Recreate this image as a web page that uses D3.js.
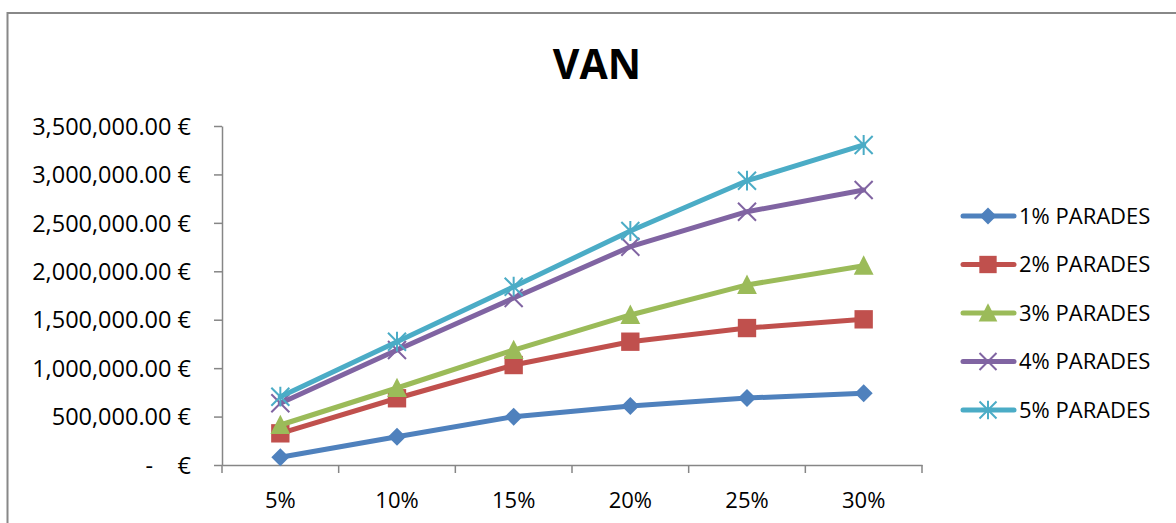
<!DOCTYPE html>
<html>
<head>
<meta charset="utf-8">
<script src="https://cdn.jsdelivr.net/npm/d3@7"></script>
<style>
  html, body { margin: 0; padding: 0; background: #fff; }
  svg { display: block; }
  text { font-family: "Open Sans", "Liberation Sans", sans-serif; fill: #000; white-space: pre; }
</style>
</head>
<body>
<svg id="chart" width="1176" height="523"></svg>
<script>
const title = "VAN";
const categories = ["5%", "10%", "15%", "20%", "25%", "30%"];
const seriesNames = ["1% PARADES", "2% PARADES", "3% PARADES", "4% PARADES", "5% PARADES"];
const s1 = [80000, 292000, 499000, 609000, 692000, 740000];
const s2 = [327000, 689000, 1032000, 1273000, 1414000, 1504000];
const s3 = [413000, 795000, 1187000, 1549000, 1859000, 2058000];
const s4 = [637000, 1187000, 1724000, 2254000, 2615000, 2839000];
const s5 = [705000, 1273000, 1841000, 2416000, 2935000, 3304000];
const yTicks = [0, 500000, 1000000, 1500000, 2000000, 2500000, 3000000, 3500000];
const yTickLabels = ["-    €", "500,000.00 €", "1,000,000.00 €", "1,500,000.00 €", "2,000,000.00 €", "2,500,000.00 €", "3,000,000.00 €", "3,500,000.00 €"];
const colors = ["#4F81BD", "#C0504D", "#9BBB59", "#8064A2", "#4BACC6"];
const markers = ["diamond", "square", "triangle", "x", "asterisk"];

const seriesValues = [s1, s2, s3, s4, s5];
const series = seriesNames.map((n, i) => ({ name: n, values: seriesValues[i], color: colors[i], marker: markers[i] }));

const svg = d3.select("#chart");

// outer chart border
svg.append("rect")
  .attr("x", 7.5).attr("y", 13).attr("width", 1200).attr("height", 600)
  .attr("fill", "none").attr("stroke", "#888").attr("stroke-width", 2);

const x = d3.scaleBand().domain(categories).range([222, 922]).paddingInner(0).paddingOuter(0);
const y = d3.scaleLinear().domain([0, 3500000]).range([465, 126]);

// title
svg.append("text").attr("x", 597).attr("y", 79).attr("text-anchor", "middle")
  .style("font-size", "41px").style("font-weight", "bold").text(title);

// y axis
const yAxis = d3.axisLeft(y).tickValues(yTicks).tickSize(8).tickSizeOuter(0)
  .tickFormat((d, i) => yTickLabels[i]);
const gy = svg.append("g").attr("transform", "translate(222,0)").call(yAxis);
gy.select(".domain").attr("stroke", "#868686").attr("stroke-width", 1.5);
gy.selectAll(".tick line").attr("stroke", "#868686").attr("stroke-width", 1.5);
gy.selectAll(".tick text").attr("x", -31).attr("dy", "0.35em")
  .style("font-size", "23.5px").style("font-family", "'Open Sans', sans-serif").style("white-space", "pre").attr("fill", "#000");

// x axis
const xAxis = d3.axisBottom(x).tickSize(0).tickSizeOuter(0);
const gx = svg.append("g").attr("transform", "translate(0,465)").call(xAxis);
gx.select(".domain").attr("stroke", "#868686").attr("stroke-width", 1.5);
gx.selectAll(".tick text").attr("y", 43).attr("dy", "0")
  .style("font-size", "22px").style("font-family", "'Open Sans', sans-serif").attr("fill", "#000");
// category boundary tick marks
const bounds = categories.map(c => x(c)).concat([x(categories[categories.length - 1]) + x.bandwidth()]);
gx.selectAll(".bound").data(bounds).enter().append("line")
  .attr("x1", d => d).attr("x2", d => d).attr("y1", 0).attr("y2", 8)
  .attr("stroke", "#868686").attr("stroke-width", 1.5);

function drawMarker(g, type, color, s) {
  if (type === "diamond") {
    g.append("path").attr("d", `M0,${-s}L${s},0L0,${s}L${-s},0Z`).attr("fill", color);
  } else if (type === "square") {
    const h = s * 1.02;
    g.append("rect").attr("x", -h).attr("y", -h).attr("width", h * 2).attr("height", h * 2).attr("fill", color);
  } else if (type === "triangle") {
    g.append("path").attr("d", `M0,${-s * 1.15}L${s * 1.1},${s * 1.0}L${-s * 1.1},${s * 1.0}Z`).attr("fill", color);
  } else if (type === "x") {
    const r = s;
    g.append("path").attr("d", `M${-r},${-r}L${r},${r}M${-r},${r}L${r},${-r}`).attr("stroke", color).attr("stroke-width", 2).attr("fill", "none");
  } else if (type === "asterisk") {
    const r = s;
    g.append("path").attr("d", `M${-r},${-r}L${r},${r}M${-r},${r}L${r},${-r}M0,${-s * 1.1}L0,${s * 1.1}`).attr("stroke", color).attr("stroke-width", 2).attr("fill", "none");
  }
}

const line = d3.line().x((d, i) => x(categories[i]) + x.bandwidth() / 2).y(d => y(d));

series.forEach(s => {
  svg.append("path").datum(s.values).attr("d", line)
    .attr("fill", "none").attr("stroke", s.color).attr("stroke-width", 5)
    .attr("stroke-linejoin", "round").attr("stroke-linecap", "round");
  s.values.forEach((v, i) => {
    const g = svg.append("g").attr("transform", `translate(${x(categories[i]) + x.bandwidth() / 2},${y(v)})`);
    drawMarker(g, s.marker, s.color, 9);
  });
});

// legend
const legY = d3.scalePoint().domain(seriesNames).range([216, 410]);
series.forEach(s => {
  const ly = legY(s.name);
  svg.append("line").attr("x1", 963).attr("x2", 1014).attr("y1", ly).attr("y2", ly)
    .attr("stroke", s.color).attr("stroke-width", 5).attr("stroke-linecap", "round");
  const g = svg.append("g").attr("transform", `translate(988,${ly})`);
  drawMarker(g, s.marker, s.color, 8.5);
  svg.append("text").attr("x", 1019).attr("y", ly).attr("dy", "0.35em")
    .style("font-size", "22px").text(s.name);
});
</script>
</body>
</html>
